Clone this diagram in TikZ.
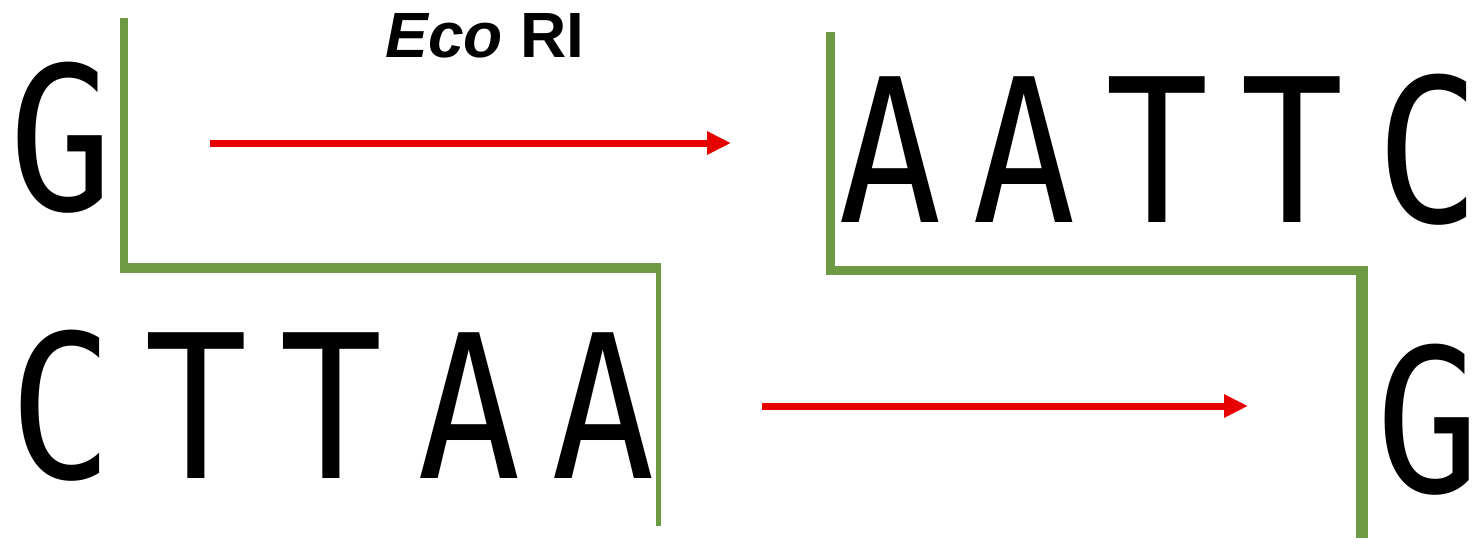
\documentclass[tikz,border=0pt]{standalone}
\usepackage{fontspec}
\usetikzlibrary{arrows.meta}
\newfontfamily\dnafont{DejaVu Sans Mono}
\newfontfamily\labfont{Liberation Sans}
\newcommand{\dnaletter}[1]{\scalebox{0.86}[1]{#1}}
\definecolor{cutgreen}{RGB}{110,154,69}
\definecolor{arrred}{RGB}{230,0,0}
\tikzset{
  base/.style={inner sep=0pt, outer sep=0pt, anchor=base},
  nt/.style={base, font=\dnafont\fontsize{200}{200}\selectfont},
  lab/.style={base, font=\labfont\bfseries\fontsize{64}{64}\selectfont},
  cutline/.style={draw=cutgreen, line join=round},
  redarrow/.style={draw=arrred, line width=7pt, -{Triangle[length=24pt,width=22pt]}}
}
\begin{document}
\begin{tikzpicture}[x=1pt,y=-1pt]
\useasboundingbox (0,0) rectangle (1483,544);
% top-left strand
\node[nt] (g1) at (61,210) {\dnaletter{G}};
% bottom-left strand
\node[nt] (c1) at (61,478) {\dnaletter{C}};
\node[nt] (t1) at (196,478) {\dnaletter{T}};
\node[nt] (t2) at (331,478) {\dnaletter{T}};
\node[nt] (a1) at (469,478) {\dnaletter{A}};
\node[nt] (a2) at (603,478) {\dnaletter{A}};
% top-right strand
\node[nt] (a3) at (890,222) {\dnaletter{A}};
\node[nt] (a4) at (1024,222) {\dnaletter{A}};
\node[nt] (t3) at (1157,222) {\dnaletter{T}};
\node[nt] (t4) at (1292,222) {\dnaletter{T}};
\node[nt] (c2) at (1428,222) {\dnaletter{C}};
% bottom-right strand
\node[nt] (g2) at (1428,492) {\dnaletter{G}};
% label
\node[lab] (eco) at (485,57) {\textit{Eco} RI};
% cut lines
\coordinate (l1a) at (124,18);
\coordinate (l1b) at (124,268);
\coordinate (l1c) at (658,268);
\coordinate (l1d) at (658,526);
\draw[cutline, line width=8pt] (l1a) -- (l1b);
\draw[cutline, line width=10pt] ([xshift=-4pt]l1b) -- ([xshift=2.5pt]l1c);
\draw[cutline, line width=5pt] ([yshift=-5pt]l1c) -- (l1d);
\coordinate (l2a) at (830,32);
\coordinate (l2b) at (830,270);
\coordinate (l2c) at (1362,270);
\coordinate (l2d) at (1362,538);
\draw[cutline, line width=9pt] (l2a) -- (l2b);
\draw[cutline, line width=9pt] ([xshift=-4.5pt]l2b) -- ([xshift=6pt]l2c);
\draw[cutline, line width=12pt] ([yshift=-4.5pt]l2c) -- (l2d);
% arrows
\coordinate (r1s) at (210,143);
\coordinate (r1e) at (731,143);
\coordinate (r2s) at (762,406);
\coordinate (r2e) at (1248,406);
\draw[redarrow] (r1s) -- (r1e);
\draw[redarrow] (r2s) -- (r2e);
\end{tikzpicture}
\end{document}
